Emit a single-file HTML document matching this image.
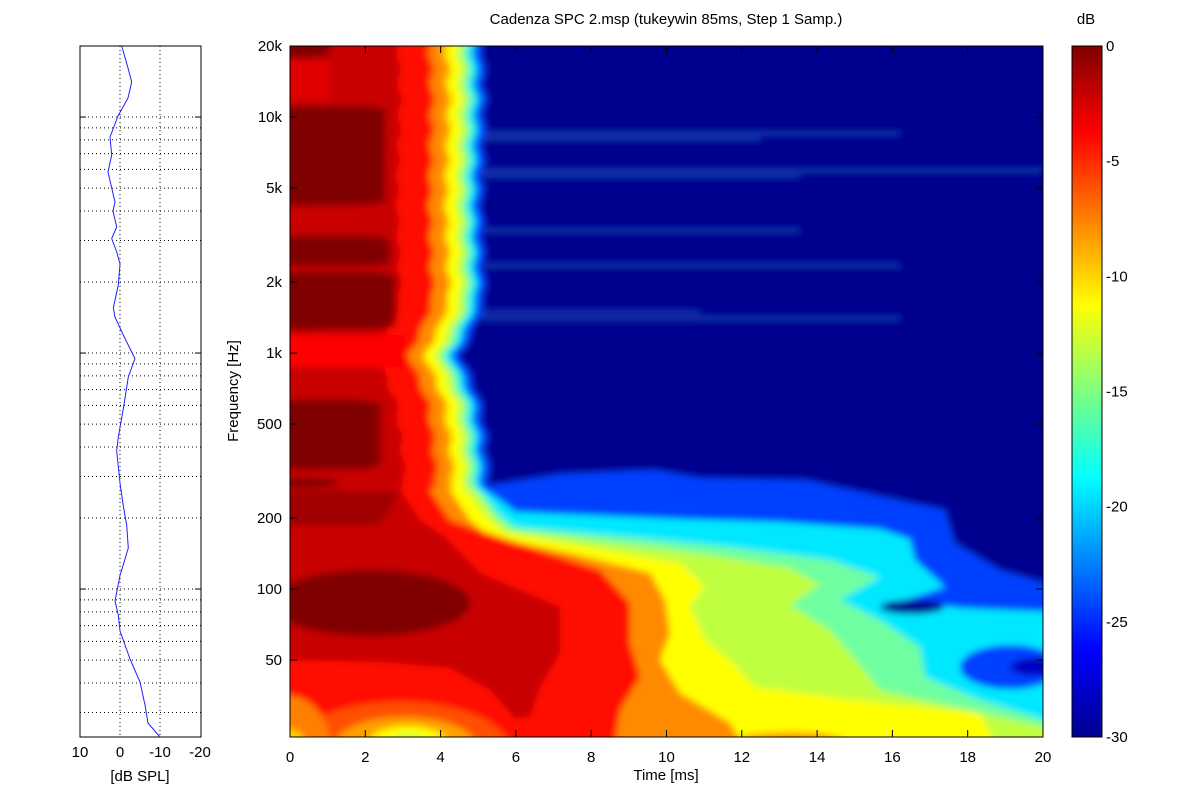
<!DOCTYPE html>
<html><head><meta charset="utf-8"><style>
html,body{margin:0;padding:0;background:#fff;}
svg{display:block;font-family:"Liberation Sans",sans-serif;}
</style></head><body>
<svg id="s" width="1200" height="801" viewBox="0 0 1200 801" xmlns="http://www.w3.org/2000/svg">
<defs>
<clipPath id="pc"><rect x="290" y="46" width="753" height="691"/></clipPath>
<filter id="bl" filterUnits="userSpaceOnUse" x="250" y="20" width="840" height="760"><feGaussianBlur stdDeviation="3.5"/></filter>
<linearGradient id="jet" x1="0" y1="1" x2="0" y2="0">
<stop offset="0" stop-color="#00008f"/><stop offset="0.125" stop-color="#0000ff"/>
<stop offset="0.375" stop-color="#00ffff"/><stop offset="0.625" stop-color="#ffff00"/>
<stop offset="0.875" stop-color="#ff0000"/><stop offset="1" stop-color="#800000"/>
</linearGradient>
</defs>
<rect x="0" y="0" width="1200" height="801" fill="#fff"/>
<g clip-path="url(#pc)"><g id="spec" filter="url(#bl)"><rect x="260" y="25" width="820" height="750" fill="#00008f"/></g></g>
<rect x="290" y="46" width="753" height="691" fill="none" stroke="#000" stroke-width="1"/>
<g id="ax" font-size="15" fill="#000"></g>
<text x="666" y="24" font-size="15" text-anchor="middle">Cadenza SPC 2.msp (tukeywin 85ms, Step 1 Samp.)</text>
<text x="666" y="780" font-size="15" text-anchor="middle">Time [ms]</text>
<text x="238" y="391" font-size="15" text-anchor="middle" transform="rotate(-90 238 391)">Frequency [Hz]</text>
<rect x="1072" y="46" width="30" height="691" fill="url(#jet)" stroke="#000"/>
<text x="1086" y="24" font-size="15" text-anchor="middle">dB</text>
<g id="left"></g>
</svg>
<script>
const NS="http://www.w3.org/2000/svg";
function el(p,t,a,txt){const e=document.createElementNS(NS,t);for(const k in a)e.setAttribute(k,a[k]);if(txt!==undefined)e.textContent=txt;p.appendChild(e);return e;}
const spec=document.getElementById('spec');
function interp(pts,y){for(let i=0;i<pts.length-1;i++){if(y>=pts[i][0]&&y<=pts[i+1][0]){const t=(y-pts[i][0])/(pts[i+1][0]-pts[i][0]);return pts[i][1]+t*(pts[i+1][1]-pts[i][1]);}}return pts[pts.length-1][1];}
const be=[[30,482],[100,485],[200,482],[300,485],[335,472],[353,460],[372,468],[400,480],[440,486],[490,490]];
function upper(off){let s=[];for(let y=30;y<=488;y+=3){const x=interp(be,y)+off+3*Math.sin(y*0.9)+2*Math.sin(y*2.3)+1.5*Math.sin(y*5.1);s.push([x,y]);}return s;}
function poly(off,lower,col,close){let pts=upper(off).concat(lower);let d="M260,25 ";pts.forEach(p=>d+="L"+p[0].toFixed(1)+","+p[1]+" ");
 if(close)close.forEach(p=>d+="L"+p[0]+","+p[1]+" ");else d+="L1080,775 L260,775 ";d+="Z";el(spec,'path',{d:d,fill:col});}
poly(0,[[560,474],[655,470],[700,478],[805,480],[945,510],[955,543],[1000,570],[1080,593]],'#0040ff',[[1080,775],[260,775]]);
poly(-8,[[500,500],[515,512],[680,519],[780,522],[880,529],[910,539],[915,560],[945,587],[905,600],[960,608],[1080,613]],'#00e8ff');
el(spec,'ellipse',{cx:1010,cy:667,rx:50,ry:22,fill:'#0040ff'});
el(spec,'ellipse',{cx:1035,cy:667,rx:25,ry:9,fill:'#0000c0'});
el(spec,'ellipse',{cx:912,cy:607,rx:32,ry:7,fill:'#000090'});
poly(-14,[[480,490],[500,515],[515,527],[630,537],[730,547],[830,560],[880,577],[840,600],[880,620],[920,647],[925,677],[980,700],[1045,720],[1080,730]],'#70ffa0');
poly(-19,[[475,490],[495,518],[510,530],[620,544],[710,555],[790,568],[820,585],[790,605],[830,630],[860,665],[880,690],[960,708],[1080,735]],'#c0ff40');
poly(-25,[[465,490],[490,520],[505,533],[605,550],[680,563],[705,587],[690,605],[705,640],[730,660],[755,687],[855,700],[980,713],[1010,775]],'#ffff00');
poly(-36,[[450,490],[470,520],[490,537],[570,553],[650,573],[665,600],[670,633],[660,660],[680,693],[730,723],[760,775]],'#ff8a00');
el(spec,'ellipse',{cx:790,cy:742,rx:55,ry:10,fill:'#ff9a00'});
poly(-52,[[430,490],[450,520],[470,527],[530,547],[600,570],[630,603],[630,643],[640,677],[620,710],[610,775]],'#ff1000');
poly(-85,[[400,490],[420,520],[445,537],[480,573],[560,607],[560,653],[540,687],[530,717],[515,718],[490,690],[450,668],[380,662],[290,660],[260,660]],'#c80000',[]);
el(spec,'rect',{x:260,y:335,width:145,height:32,fill:'#ff0000'});
el(spec,'rect',{x:260,y:60,width:70,height:40,fill:'#e00000'});
const dr=[[25,58,330],[106,206,385],[236,266,390],[272,330,395],[400,470,380],[478,488,340]];
dr.forEach(b=>{let d="M260,"+b[0]+" ";for(let y=b[0];y<=b[1];y+=3){d+="L"+(b[2]+4*Math.sin(y*0.7)+(y==b[0]||y>=b[1]-2?-20:0)).toFixed(1)+","+y+" ";}d+="L260,"+b[1]+" Z";el(spec,'path',{d:d,fill:'#800000'});});
el(spec,'ellipse',{cx:370,cy:603,rx:100,ry:33,fill:'#800000'});
el(spec,'path',{d:"M260,490 L400,492 L380,525 L260,525 Z",fill:'#a00000'});
el(spec,'ellipse',{cx:400,cy:750,rx:110,ry:48,fill:'#ff5000'});
el(spec,'ellipse',{cx:405,cy:745,rx:70,ry:28,fill:'#ffa000'});
el(spec,'ellipse',{cx:408,cy:742,rx:38,ry:16,fill:'#ffff00'});
el(spec,'ellipse',{cx:408,cy:742,rx:18,ry:8,fill:'#c0ff40'});
el(spec,'ellipse',{cx:285,cy:745,rx:45,ry:50,fill:'#ff8000'});
el(spec,'ellipse',{cx:285,cy:748,rx:22,ry:20,fill:'#ffd000'});
[[133,900],[138,760],[170,1043],[175,800],[265,900],[318,900],[312,700],[230,800]].forEach(s=>el(spec,'rect',{x:480,y:s[0],width:s[1]-480,height:1,fill:'#3080ff',opacity:0.8}));
const ax=document.getElementById('ax');
for(let t=0;t<=20;t+=2){const x=290+t*753/20;el(ax,'text',{x:x,y:762,'text-anchor':'middle'},t);
 el(ax,'line',{x1:x,y1:46,x2:x,y2:53,stroke:'#000'});el(ax,'line',{x1:x,y1:737,x2:x,y2:730,stroke:'#000'});}
const Y=f=>46+236*Math.log10(20000/f);
[[20000,'20k'],[10000,'10k'],[5000,'5k'],[2000,'2k'],[1000,'1k'],[500,'500'],[200,'200'],[100,'100'],[50,'50']].forEach(a=>{const y=Y(a[0]);
 el(ax,'text',{x:282,y:y+5,'text-anchor':'end'},a[1]);el(ax,'line',{x1:290,y1:y,x2:297,y2:y,stroke:'#000'});el(ax,'line',{x1:1043,y1:y,x2:1036,y2:y,stroke:'#000'});});
for(let v=0;v>=-30;v-=5){const y=46+(-v/30)*691;el(ax,'text',{x:1106,y:y+5},v);
 el(ax,'line',{x1:1072,y1:y,x2:1076,y2:y,stroke:'#000'});el(ax,'line',{x1:1102,y1:y,x2:1098,y2:y,stroke:'#000'});}
const L=document.getElementById('left');
el(L,'rect',{x:80,y:46,width:121,height:691,fill:'#fff',stroke:'#000'});
[10000,1000,100,10].forEach(dec=>{for(let m=1;m<=9;m++){const f=dec*m;const y=Y(f);if(y<46||y>737)continue;
 el(L,'line',{x1:80,y1:y,x2:201,y2:y,stroke:'#000','stroke-dasharray':'1,3','stroke-width':1});
 if(m==1){el(L,'line',{x1:80,y1:y,x2:86,y2:y,stroke:'#000'});el(L,'line',{x1:201,y1:y,x2:195,y2:y,stroke:'#000'});}}});
[120,160].forEach(x=>el(L,'line',{x1:x,y1:46,x2:x,y2:737,stroke:'#000','stroke-dasharray':'1,3'}));
[[80,'10'],[120,'0'],[160,'-10'],[200,'-20']].forEach(a=>el(L,'text',{x:a[0],y:757,'text-anchor':'middle','font-size':15},a[1]));
el(L,'text',{x:140,y:781,'text-anchor':'middle','font-size':15},'[dB SPL]');
const cp=[[121.7,46],[128,68],[131.7,82],[128,98],[118,116],[110,137],[111.7,155],[108,172],[111.7,188],[115,202],[113,211],[116.7,227],[111.7,238.5],[116.7,252],[120,264],[118.3,285],[113.3,308],[115,317],[123.3,335],[135,358.6],[128.3,377],[123.3,409],[118.3,437],[116.7,451],[120,483],[123.3,506],[126.7,525],[128.3,548],[120,575.5],[115,601],[118.3,615],[120,631],[130,659],[140,682],[145,705],[148,723],[160,737]];
let d="M"+cp.map(p=>p[0]+","+p[1]).join(" L");
el(L,'path',{d:d,fill:'none',stroke:'#2020ff','stroke-width':1,'stroke-linejoin':'round'});
</script>
</body></html>
